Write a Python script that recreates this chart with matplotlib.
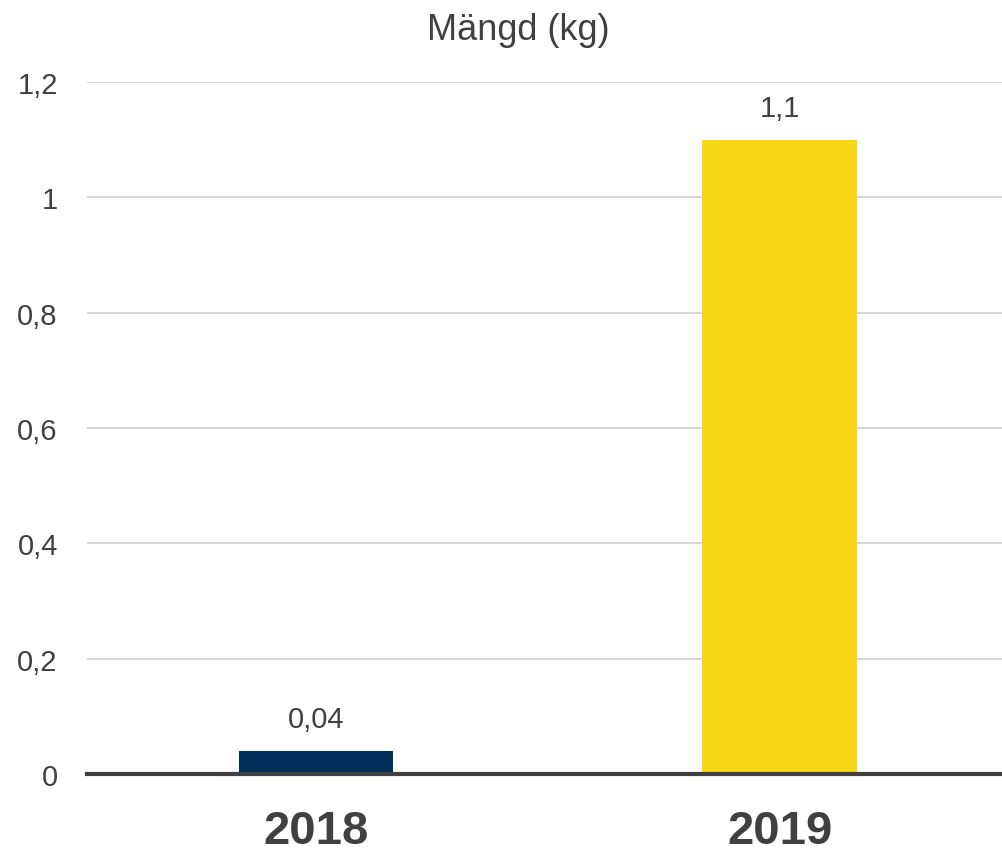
import matplotlib.pyplot as plt

years = ['2018', '2019']
amount = [0.04, 1.1]
value_labels = ['0,04', '1,1']
colors = ['#002F5C', '#F7D616']
yticks = [0, 0.2, 0.4, 0.6, 0.8, 1.0, 1.2]
ytick_labels = ['0', '0,2', '0,4', '0,6', '0,8', '1', '1,2']

plt.rcParams['font.family'] = ['Liberation Sans', 'DejaVu Sans']
text_color = '#404040'

fig = plt.figure(figsize=(10.02, 8.53), dpi=100)
ax = fig.add_axes([87 / 1002, 1 - 775 / 853, (1002 - 87) / 1002, (775 - 83) / 853])

x = range(len(years))
ax.bar(x, amount, width=0.333, color=colors, zorder=2)

for i, (v, lab) in enumerate(zip(amount, value_labels)):
    ax.annotate(lab, (i, v), xytext=(0, 13), textcoords='offset points',
                ha='center', va='bottom', fontsize=21, color=text_color)

ax.set_xlim(-0.495, 1.48)
ax.set_ylim(0, 1.2)
ax.set_yticks(yticks)
ax.set_yticklabels(ytick_labels, fontsize=21, color=text_color)
ax.set_xticks(list(x))
ax.set_xticklabels(years, fontsize=34, fontweight='bold', color=text_color)
ax.tick_params(axis='y', length=0, pad=21)
ax.tick_params(axis='x', length=0, pad=25)

ax.grid(axis='y', color='#D0D0D0', linewidth=1.2, zorder=0)
for s in ['top', 'right', 'left']:
    ax.spines[s].set_visible(False)
ax.spines['bottom'].set_color('#404040')
ax.spines['bottom'].set_linewidth(3)
ax.spines['bottom'].set_zorder(3)

fig.text(518 / 1002, 1 - 30 / 853, 'Mängd (kg)', ha='center', va='center',
         fontsize=26, color=text_color)

fig.savefig('out.png', dpi=100)
